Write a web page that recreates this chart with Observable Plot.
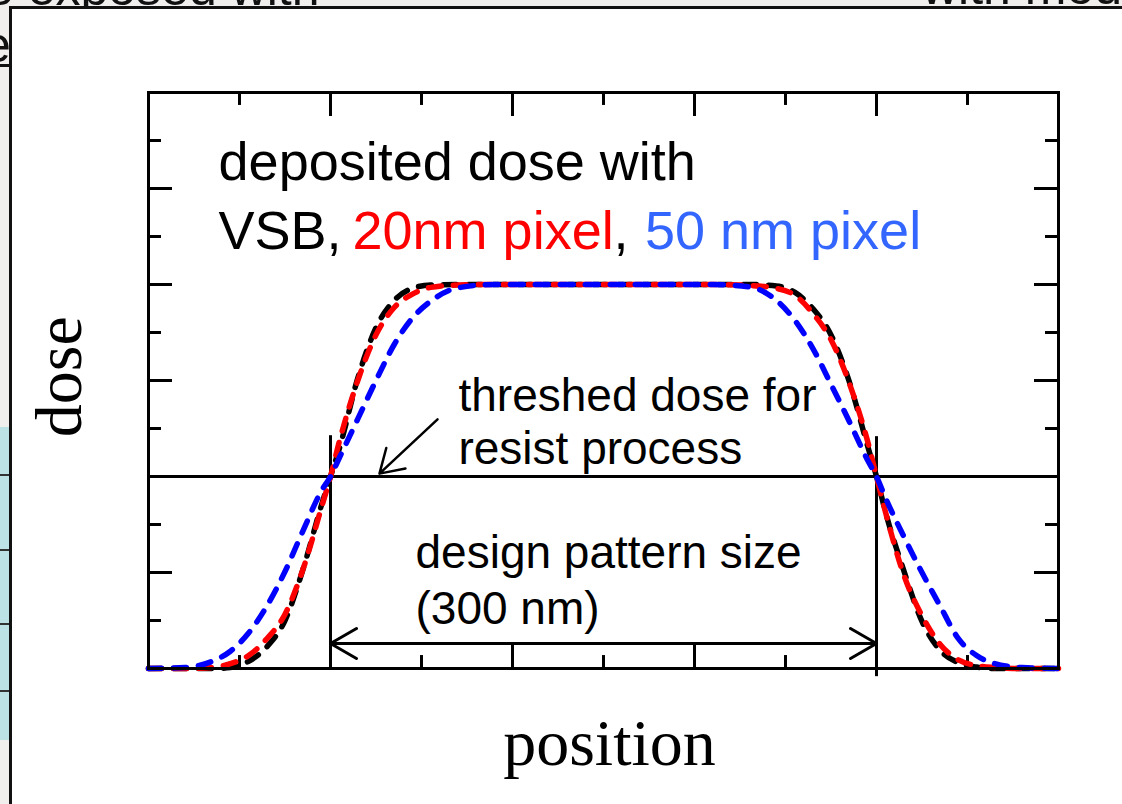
<!DOCTYPE html>
<html>
<head>
<meta charset="utf-8">
<script src="https://cdn.jsdelivr.net/npm/d3@7"></script>
<script src="https://cdn.jsdelivr.net/npm/@observablehq/plot@0.6"></script>
<style>
  body { margin:0; width:1122px; height:804px; overflow:hidden; position:relative; background:#f1eeee; font-family:"Liberation Sans", Arial, sans-serif; }
  .bgt { position:absolute; font-size:50px; line-height:50px; color:#111; white-space:nowrap; }
  #panel { position:absolute; left:9px; top:6px; width:1120px; height:800px; background:#fff; border-left:3px solid #111; border-top:3px solid #111; }
  #teal { position:absolute; left:0; top:427px; width:9px; height:313px; background:#bde2e5; }
  .hl { position:absolute; left:0; width:9px; height:2px; background:#333; }
  #chart { position:absolute; left:0; top:0; }
</style>
</head>
<body>
<div class="bgt" style="left:-14px; top:-37px;">e exposed with</div>
<div class="bgt" style="left:922px; top:-38px;">with modu</div>
<div class="bgt" style="left:-17px; top:20px;">e</div>
<div class="hl" style="top:64px; height:3px; background:#111;"></div>
<div id="teal"></div>
<div class="hl" style="top:474px;"></div>
<div class="hl" style="top:549px;"></div>
<div class="hl" style="top:623px;"></div>
<div class="hl" style="top:690px;"></div>
<div id="panel"></div>
<div id="chart"></div>
<script>
// ---- data (position in nm, dose in arbitrary units) ----
const positions = [-250, -230, -215, -205, -195, -185, -175, -165, -155, -150, -145, -135, -125, -115, -105, -95, -80, -60, 0, 60, 80, 95, 105, 115, 125, 135, 145, 150, 155, 165, 175, 185, 195, 205, 215, 230, 250];
const doseVSB  = [0, 0, 0, 0.02, 0.15, 0.45, 1.0, 2.08, 3.4, 4.0, 4.6, 6.05, 7.1, 7.67, 7.92, 7.99, 8, 8, 8, 8, 8, 7.97, 7.84, 7.5, 6.95, 5.98, 4.65, 4.0, 3.25, 2.04, 0.98, 0.38, 0.12, 0.03, 0, 0, 0];
const dose20nm = [0, 0, 0.02, 0.1, 0.27, 0.62, 1.13, 2.08, 3.35, 4.0, 4.75, 6.0, 6.95, 7.52, 7.8, 7.94, 7.99, 8, 8, 8, 7.98, 7.92, 7.78, 7.4, 6.85, 5.95, 4.75, 4.0, 3.25, 1.95, 1.1, 0.5, 0.18, 0.06, 0.02, 0, 0];
const dose50nm = [0, 0.02, 0.15, 0.36, 0.74, 1.3, 2.02, 2.88, 3.7, 4.0, 4.4, 5.2, 6.0, 6.75, 7.3, 7.65, 7.93, 8, 8, 8, 7.95, 7.67, 7.26, 6.67, 5.92, 5.15, 4.35, 4.0, 3.55, 2.75, 2.0, 1.3, 0.62, 0.27, 0.1, 0.02, 0];
const seriesNames = ["VSB", "20nm pixel", "50 nm pixel"];
const thresholdDose = [4];
const designEdges = [-150, 150];
const xMajorTicks = [-150, -50, 50, 150];
const xMinorTicks = [-200, -100, 0, 100, 200];
const yMajorTicks = [2, 4, 6, 8, 10];
const yMinorTicks = [1, 3, 5, 7, 9, 11];
const titleLine1 = "deposited dose with";
const titleParts = ["VSB,", "20nm pixel", ",", "50 nm pixel"];
const thresholdText = ["threshed dose for", "resist process"];
const patternText = ["design pattern size", "(300 nm)"];
const xLabel = "position";
const yLabel = "dose";

// ---- build table ----
const seriesValues = [doseVSB, dose20nm, dose50nm];
const rows = seriesNames.flatMap((s, k) => positions.map((x, i) => ({series: s, x, dose: seriesValues[k][i]})));
const lineColors = {"VSB": "#000000", "20nm pixel": "#ff0000", "50 nm pixel": "#0000ff"};

const sans = "Liberation Sans, Arial, sans-serif";
const serif = "Liberation Serif, Times New Roman, serif";
const tickLong = 24 / 1.82, tickShort = 13 / 1.82; // in nm (x units)

const lineMark = (name) => Plot.line(rows.filter(d => d.series === name), {
  x: "x", y: "dose", stroke: lineColors[name], strokeWidth: 5.5,
  strokeDasharray: "13,12", strokeLinecap: "round", curve: "monotone-x"
});

const chart = Plot.plot({
  width: 1122, height: 804,
  marginLeft: 148, marginRight: 64, marginTop: 92, marginBottom: 136,
  x: {domain: [-250, 250], axis: null},
  y: {domain: [0, 12], axis: null},
  style: {background: "transparent", overflow: "visible"},
  marks: [
    // ticks (inward on all four sides)
    Plot.ruleX(xMajorTicks, {x: d => d, y1: () => 0, y2: () => 0.5, strokeWidth: 3}),
    Plot.ruleX(xMinorTicks, {x: d => d, y1: () => 0, y2: () => 0.27, strokeWidth: 3}),
    Plot.ruleX(xMajorTicks, {x: d => d, y1: () => 12, y2: () => 11.5, strokeWidth: 3}),
    Plot.ruleX(xMinorTicks, {x: d => d, y1: () => 12, y2: () => 11.73, strokeWidth: 3}),
    Plot.ruleY(yMajorTicks, {y: d => d, x1: () => -250, x2: () => -250 + tickLong, strokeWidth: 3}),
    Plot.ruleY(yMinorTicks, {y: d => d, x1: () => -250, x2: () => -250 + tickShort, strokeWidth: 3}),
    Plot.ruleY(yMajorTicks, {y: d => d, x1: () => 250, x2: () => 250 - tickLong, strokeWidth: 3}),
    Plot.ruleY(yMinorTicks, {y: d => d, x1: () => 250, x2: () => 250 - tickShort, strokeWidth: 3}),
    // threshold line
    Plot.ruleY(thresholdDose, {y: d => d, strokeWidth: 3}),
    // design pattern edges
    Plot.ruleX([designEdges[0]], {x: d => d, y1: () => 0, y2: () => 4.85, strokeWidth: 3}),
    Plot.ruleX([designEdges[1]], {x: d => d, y1: () => -0.17, y2: () => 4.83, strokeWidth: 3}),
    // double arrow for pattern size
    Plot.arrow([0], {x1: () => 0, y1: () => 0.52, x2: () => designEdges[0], y2: () => 0.52, strokeWidth: 3, headLength: 15, headAngle: 60, stroke: "#000"}),
    Plot.arrow([0], {x1: () => 0, y1: () => 0.52, x2: () => designEdges[1], y2: () => 0.52, strokeWidth: 3, headLength: 15, headAngle: 60, stroke: "#000"}),
    // pointer to threshold line
    Plot.arrow([0], {x1: () => -91.2, y1: () => 5.19, x2: () => -123.1, y2: () => 4.06, strokeWidth: 2.5, headLength: 16, headAngle: 64, stroke: "#000"}),
    // curves
    lineMark("VSB"),
    lineMark("20nm pixel"),
    lineMark("50 nm pixel"),
    // frame
    Plot.frame({stroke: "#000", strokeWidth: 3}),
    // annotations
    Plot.text([titleLine1], {x: () => -211.5, y: () => 10.17, text: d => d, textAnchor: "start", lineAnchor: "bottom", fontSize: 54, fontFamily: sans, fill: "#000"}),
    Plot.text([titleParts[0]], {x: () => -211.5, y: () => 8.75, text: d => d, textAnchor: "start", lineAnchor: "bottom", fontSize: 54, fontFamily: sans, fill: "#000"}),
    Plot.text([titleParts[1]], {x: () => -137.9, y: () => 8.75, text: d => d, textAnchor: "start", lineAnchor: "bottom", fontSize: 54, fontFamily: sans, fill: "#ff0000"}),
    Plot.text([titleParts[2]], {x: () => 5.5, y: () => 8.75, text: d => d, textAnchor: "start", lineAnchor: "bottom", fontSize: 54, fontFamily: sans, fill: "#000"}),
    Plot.text([titleParts[3]], {x: () => 22.8, y: () => 8.75, text: d => d, textAnchor: "start", lineAnchor: "bottom", fontSize: 54, fontFamily: sans, fill: "#3366ff"}),
    Plot.text([thresholdText[0]], {x: () => -79.7, y: () => 5.375, text: d => d, textAnchor: "start", lineAnchor: "bottom", fontSize: 46, fontFamily: sans, fill: "#000"}),
    Plot.text([thresholdText[1]], {x: () => -79.7, y: () => 4.27, text: d => d, textAnchor: "start", lineAnchor: "bottom", fontSize: 46, fontFamily: sans, fill: "#000"}),
    Plot.text([patternText[0]], {x: () => -103.3, y: () => 2.1, text: d => d, textAnchor: "start", lineAnchor: "bottom", fontSize: 46, fontFamily: sans, fill: "#000"}),
    Plot.text([patternText[1]], {x: () => -103.3, y: () => 0.917, text: d => d, textAnchor: "start", lineAnchor: "bottom", fontSize: 46, fontFamily: sans, fill: "#000"}),
    // axis labels
    Plot.text([xLabel], {x: () => 3.3, y: () => -2.02, text: d => d, textAnchor: "middle", lineAnchor: "bottom", fontSize: 66, fontFamily: serif, fill: "#000"}),
    Plot.text([yLabel], {x: () => -287, y: () => 6.08, text: d => d, textAnchor: "middle", lineAnchor: "bottom", rotate: -90, fontSize: 66, fontFamily: serif, fill: "#000"})
  ]
});
document.getElementById("chart").appendChild(chart);
</script>
</body>
</html>
